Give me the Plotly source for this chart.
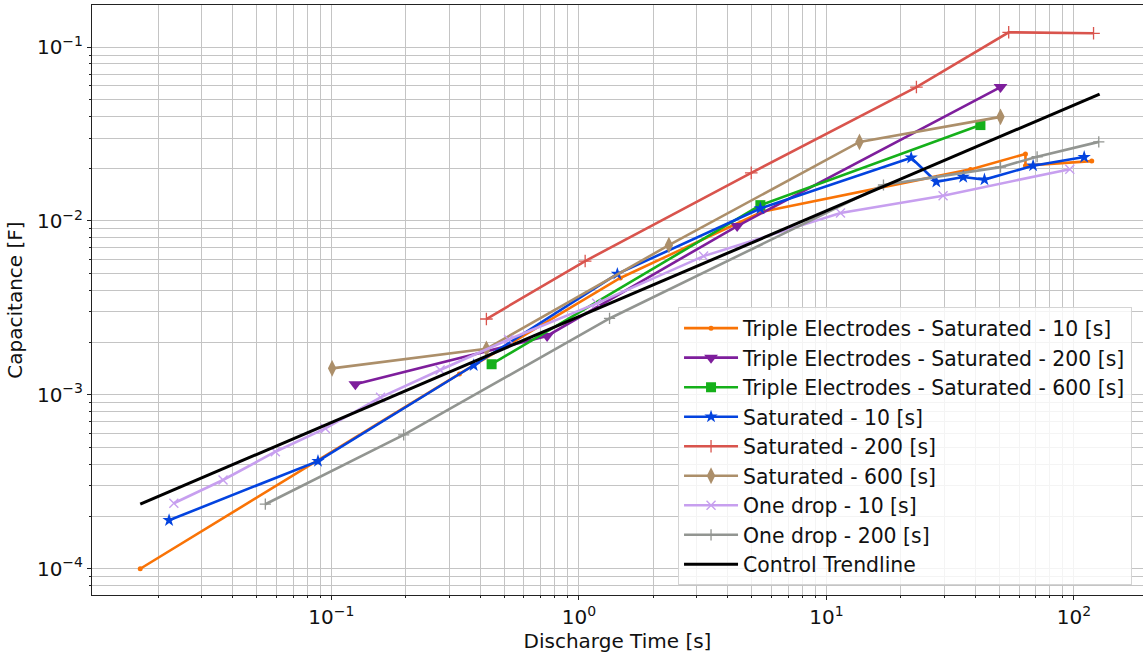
import plotly.graph_objects as go

# Discharge time [s] and capacitance [F] per measurement series
te10_t = [0.0169, 0.329, 1.47, 5.5, 38.2, 63.7, 63.7, 118]
te10_c = [1.0e-4, 0.00132, 0.0047, 0.0113, 0.0198, 0.0243, 0.0208, 0.0221]

te200_t = [0.125, 0.744, 4.36, 50.5]
te200_c = [0.00115, 0.00218, 0.00935, 0.0589]

te600_t = [0.444, 5.41, 41.9]
te600_c = [0.0015, 0.01233, 0.0356]

sat10_t = [0.0221, 0.0883, 0.376, 1.43, 5.41, 22.0, 27.8, 35.7, 43.5, 68.4, 110]
sat10_c = [0.00019, 0.000416, 0.00148, 0.00496, 0.0118, 0.0231, 0.0168, 0.0179, 0.0173, 0.0208, 0.0233]

sat200_t = [0.423, 1.06, 4.97, 23.1, 54.5, 120]
sat200_c = [0.00273, 0.00588, 0.0189, 0.0589, 0.1216, 0.120]

sat600_t = [0.1007, 0.423, 2.31, 13.6, 50.5]
sat600_c = [0.00142, 0.00184, 0.00726, 0.0285, 0.0397]

drop10_t = [0.0231, 0.0365, 0.0594, 0.0946, 0.158, 0.275, 0.52, 1.18, 3.19, 11.4, 29.6, 96.2]
drop10_c = [0.000238, 0.000324, 0.000471, 0.000641, 0.000968, 0.00139, 0.00208, 0.00336, 0.00628, 0.0111, 0.01397, 0.01986]

drop200_t = [0.0541, 0.196, 1.33, 17.0, 50.5, 71, 126]
drop200_c = [0.000235, 0.000588, 0.00275, 0.0161, 0.0204, 0.0234, 0.0285]

ctrl_t = [0.0169, 127]
ctrl_c = [0.000235, 0.0537]

x_tickvals = [0.1, 1, 10, 100]
x_ticktext = ["10<sup>−1</sup>", "10<sup>0</sup>", "10<sup>1</sup>", "10<sup>2</sup>"]
y_tickvals = [1e-4, 1e-3, 1e-2, 1e-1]
y_ticktext = ["10<sup>−4</sup>", "10<sup>−3</sup>", "10<sup>−2</sup>", "10<sup>−1</sup>"]

FONT = "DejaVu Sans"

series = [
    ("Triple Electrodes - Saturated - 10 [s]", te10_t, te10_c, "#f97306",
     dict(symbol="circle", size=5)),
    ("Triple Electrodes - Saturated - 200 [s]", te200_t, te200_c, "#7e1e9c",
     dict(symbol="triangle-down", size=12)),
    ("Triple Electrodes - Saturated - 600 [s]", te600_t, te600_c, "#15b01a",
     dict(symbol="square", size=10)),
    ("Saturated - 10 [s]", sat10_t, sat10_c, "#0343df",
     dict(symbol="star", size=10)),
    ("Saturated - 200 [s]", sat200_t, sat200_c, "#d9544d",
     dict(symbol="cross-thin", size=9, line=dict(width=1.3, color="#d9544d"))),
    ("Saturated - 600 [s]", sat600_t, sat600_c, "#ac8f6a",
     dict(symbol="diamond-tall", size=12)),
    ("One drop - 10 [s]", drop10_t, drop10_c, "#c79fef",
     dict(symbol="x-thin", size=9, line=dict(width=1.4, color="#c79fef"))),
    ("One drop - 200 [s]", drop200_t, drop200_c, "#929591",
     dict(symbol="cross-thin", size=8, line=dict(width=1.3, color="#929591"))),
]

fig = go.Figure()
for name, t, c, color, marker in series:
    fig.add_trace(go.Scatter(
        x=t, y=c, name=name, mode="lines+markers",
        line=dict(color=color, width=2.6),
        marker=dict(color=color, **marker),
    ))

fig.add_trace(go.Scatter(
    x=ctrl_t, y=ctrl_c, name="Control Trendline", mode="lines",
    line=dict(color="black", width=3),
))

x_minor = [m * 10.0 ** e for e in range(-2, 3) for m in range(2, 10)]
y_minor = [m * 10.0 ** e for e in range(-5, 0) for m in range(2, 10)]

grid_col = "#c4c4c4"
fig.update_xaxes(
    type="log", range=[-1.967, 2.279],
    tickvals=x_tickvals, ticktext=x_ticktext,
    ticks="outside", ticklen=4, tickcolor="#222", tickwidth=1,
    showgrid=True, gridcolor=grid_col, gridwidth=1,
    minor=dict(tickvals=x_minor, ticks="outside", ticklen=2, tickcolor="#222",
               showgrid=True, gridcolor=grid_col, gridwidth=1),
    showline=True, linecolor="#222", linewidth=1, mirror=True,
    zeroline=False,
    tickfont=dict(family=FONT, size=20, color="#111"),
    title=dict(text="Discharge Time [s]", font=dict(family=FONT, size=20, color="#111"),
               standoff=3),
)
fig.update_yaxes(
    type="log", range=[-4.151, -0.758],
    tickvals=y_tickvals, ticktext=y_ticktext,
    ticks="outside", ticklen=4, tickcolor="#222", tickwidth=1,
    showgrid=True, gridcolor=grid_col, gridwidth=1,
    minor=dict(tickvals=y_minor, ticks="outside", ticklen=2, tickcolor="#222",
               showgrid=True, gridcolor=grid_col, gridwidth=1),
    showline=True, linecolor="#222", linewidth=1, mirror=False,
    zeroline=False,
    tickfont=dict(family=FONT, size=20, color="#111"),
    title=dict(text="Capacitance [F]", font=dict(family=FONT, size=20, color="#111"),
               standoff=8),
)

fig.update_layout(
    width=1143, height=653,
    margin=dict(l=92, r=0, t=5, b=58),
    paper_bgcolor="white", plot_bgcolor="white",
    font=dict(family=FONT, size=20, color="#111"),
    legend=dict(
        x=0.5576, y=0.4875, xanchor="left", yanchor="top",
        bgcolor="rgba(255,255,255,0.82)", bordercolor="#d4d4d4", borderwidth=1,
        font=dict(family=FONT, size=20.4, color="#111"),
        itemwidth=54,
    ),
    showlegend=True,
)

fig.write_html("out.html")
